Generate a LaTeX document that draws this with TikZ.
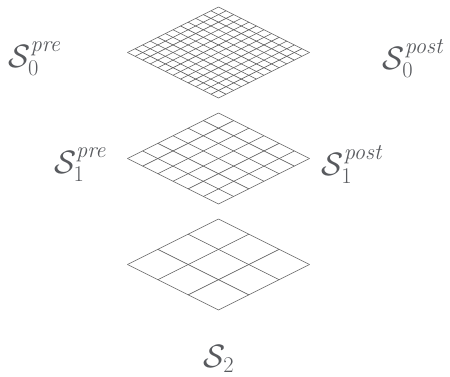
\documentclass[tikz,border=0pt]{standalone}
\usepackage{amsmath}
\definecolor{ink}{RGB}{88,90,94}
\definecolor{gridc}{RGB}{95,95,95}
\tikzset{
  gridline/.style={draw=gridc,line width=0.6pt},
  lab/.style={text=ink,inner sep=0pt,font=\fontsize{24}{28}\selectfont,scale=1.3,transform shape}
}
\newcommand{\isogrid}[4]{% cx cy hh n
  \foreach \i in {0,...,#4}{
    \pgfmathsetmacro{\t}{\i/#4}
    \draw[gridline] ({#1-2*#3+2*#3*\t},{#2-#3*\t}) -- ({#1+2*#3*\t},{#2+#3-#3*\t});
    \draw[gridline] ({#1-2*#3+2*#3*\t},{#2+#3*\t}) -- ({#1+2*#3*\t},{#2-#3+#3*\t});
  }
}
\begin{document}
\begin{tikzpicture}[x=1pt,y=-1pt]
\useasboundingbox (0,0) rectangle (450,376);
\isogrid{218.5}{52.5}{45.5}{12}
\isogrid{218.5}{158.5}{45.5}{6}
\isogrid{218.5}{264.5}{45.5}{3}
\node[lab] (s0pre) at (35.5,59) {$\mathcal{S}_0^{\mathit{pre}}$};
\node[lab] (s1pre) at (81,165) {$\mathcal{S}_1^{\mathit{pre}}$};
\node[lab] (s0post) at (414,59) {$\mathcal{S}_0^{\mathit{post}}$};
\node[lab] (s1post) at (353,165) {$\mathcal{S}_1^{\mathit{post}}$};
\node[lab] (s2) at (219,359) {$\mathcal{S}_2$};
\end{tikzpicture}
\end{document}
